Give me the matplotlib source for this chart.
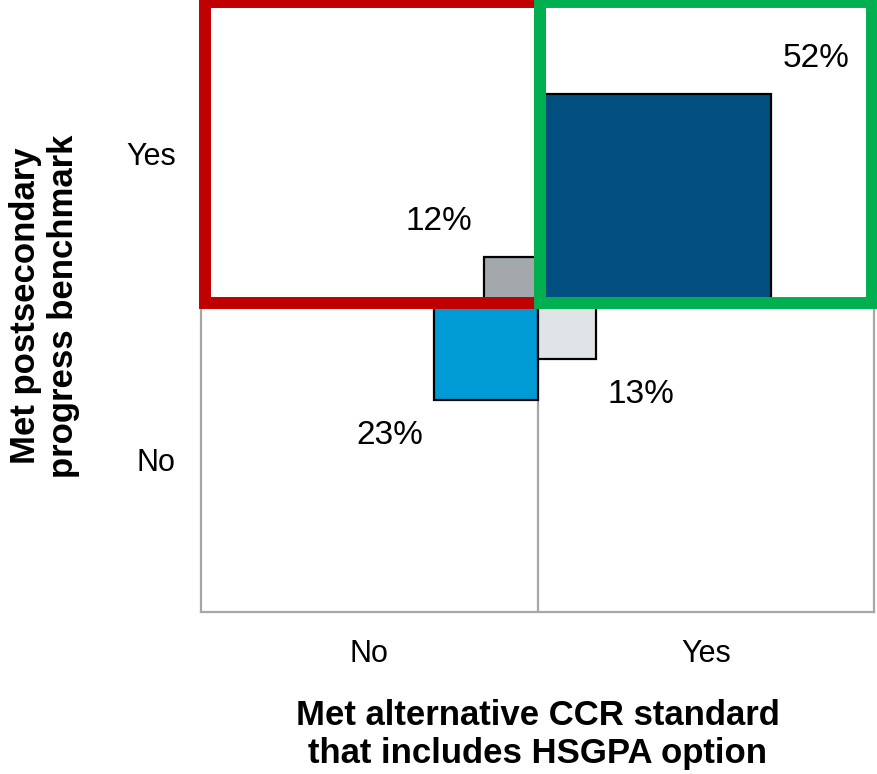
import matplotlib.pyplot as plt
from matplotlib.patches import Rectangle

plt.rcParams['font.family'] = ['Liberation Sans', 'DejaVu Sans']

# quadrants: (x direction, y direction) -> No = -1, Yes = +1
quadrants = ['No/Yes', 'Yes/Yes', 'No/No', 'Yes/No']
x_dirs = [-1, 1, -1, 1]
y_dirs = [1, 1, -1, -1]
percents = [12, 52, 23, 13]
colors = ['#A3A8AC', '#02507F', '#009AD4', '#E1E4E7']

tick_labels = ['No', 'Yes']
x_title = 'Met alternative CCR standard\nthat includes HSGPA option'
y_title = 'Met postsecondary\nprogress benchmark'

fig = plt.figure(figsize=(8.77, 7.74), dpi=100)
ax = fig.add_axes([0.229, 0.209, 0.768, 0.791])
ax.set_xlim(-75, 75)
ax.set_ylim(-75, 75)

# centre grid lines
ax.axvline(0, color='#A6A6A6', lw=1.6, zorder=1)
ax.axhline(0, color='#A6A6A6', lw=1.6, zorder=1)

for xd, yd, p, c in zip(x_dirs, y_dirs, percents, colors):
    # side of the square is proportional to the percentage
    ax.add_patch(Rectangle((0, 0), xd * p, yd * p, facecolor=c,
                           edgecolor='black', lw=1.6, zorder=2))
    ax.text(xd * (p + 10), yd * (p + 8.7), f'{p}%', fontsize=24,
            ha='center', va='center', zorder=5)

# highlight boxes
ax.add_patch(Rectangle((-74, 0.7), 74.5, 73.9, fill=False, edgecolor='#C00000',
                       lw=8.6, clip_on=False, zorder=3, joinstyle='miter'))
ax.add_patch(Rectangle((0.5, 0.7), 74.0, 73.9, fill=False, edgecolor='#00B050',
                       lw=8.6, clip_on=False, zorder=4, joinstyle='miter'))

ax.set_xticks([-37.5, 37.5])
ax.set_xticklabels(tick_labels, fontsize=22)
ax.set_yticks([-37.5, 37.5])
ax.set_yticklabels(tick_labels, fontsize=22)
ax.tick_params(axis='y', length=0, pad=18)
ax.tick_params(axis='x', length=0, pad=19)
for s in ax.spines.values():
    s.set_color('#A6A6A6')
    s.set_linewidth(1.6)

ax.set_xlabel(x_title, fontsize=25, fontweight='bold', labelpad=22)
ax.set_ylabel(y_title, fontsize=25, fontweight='bold', labelpad=33)

fig.savefig('out.png', dpi=100)
